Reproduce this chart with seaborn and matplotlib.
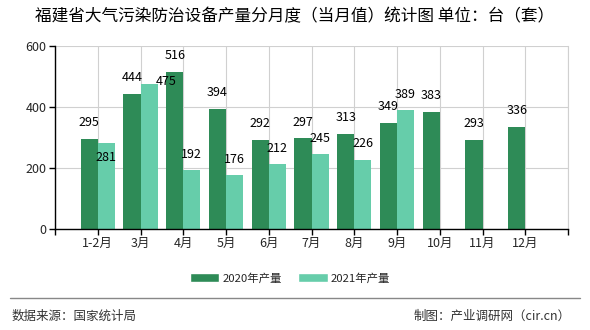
import matplotlib
matplotlib.use("Agg")
import matplotlib.pyplot as plt
import seaborn as sns
import pandas as pd
import numpy as np
from matplotlib.lines import Line2D
from matplotlib.patches import Patch

categories = ["1-2月", "3月", "4月", "5月", "6月", "7月", "8月", "9月", "10月", "11月", "12月"]
values_2020 = [295, 444, 516, 394, 292, 297, 313, 349, 383, 293, 336]
values_2021 = [281, 475, 192, 176, 212, 245, 226, 389, None, None, None]
series_names = ["2020年产量", "2021年产量"]
colors = ["#2E8B57", "#66CDAA"]
title = "福建省大气污染防治设备产量分月度（当月值）统计图 单位：台（套）"
yticks = [0, 200, 400, 600]

rows = []
for c, a, b in zip(categories, values_2020, values_2021):
    rows.append({"月份": c, "系列": series_names[0], "产量": a})
    rows.append({"月份": c, "系列": series_names[1], "产量": np.nan if b is None else b})
df = pd.DataFrame(rows)

sns.set_theme(style="white")
plt.rcParams["font.family"] = ["Noto Sans CJK SC", "DejaVu Sans"]

fig = plt.figure(figsize=(5.9, 3.3), dpi=100)
ax = fig.add_axes([55/590, 1-229/330, (568-55)/590, (229-46)/330])

sns.barplot(data=df, x="月份", y="产量", hue="系列", order=categories,
            hue_order=series_names, palette=colors, width=0.8,
            saturation=1, ax=ax, legend=False, zorder=3,
            linewidth=0, edgecolor="none")

ax.set_xlim(-1, len(categories))
ax.set_ylim(0, 600)
ax.set_xticks(range(-1, len(categories) + 1))
ax.set_xticklabels([""] + categories + [""], fontsize=9)
ax.set_yticks(yticks)
ax.set_yticklabels([str(t) for t in yticks], fontsize=9)
ax.set_xlabel("")
ax.set_ylabel("")
ax.grid(True, color="#d0d0d0", linewidth=0.8, zorder=0)
ax.set_axisbelow(True)
ax.spines["top"].set_visible(False)
ax.spines["right"].set_color("#d0d0d0")
ax.spines["right"].set_linewidth(0.8)
for s in ["left", "bottom"]:
    ax.spines[s].set_color("black")
    ax.spines[s].set_linewidth(1)
    ax.spines[s].set_zorder(4)
ax.tick_params(axis="both", length=4, width=1, color="black", direction="out", pad=2,
               bottom=True, left=True)

# data labels; two 2021 labels are nudged where they collide with neighbours
for si, cont in enumerate(ax.containers):
    vals = values_2020 if si == 0 else values_2021
    for ci, (bar, v) in enumerate(zip(cont, vals)):
        if v is None:
            continue
        dx, dy = 0, 7
        if si == 1 and ci == 0:
            dx, dy = 0, -15
        if si == 1 and ci == 1:
            dx, dy = 12, -3
        ax.annotate(str(v), (bar.get_x() + bar.get_width()/2, bar.get_height()),
                    xytext=(dx, dy), textcoords="offset points",
                    ha="center", va="bottom", fontsize=9, color="black", zorder=5)

fig.text(295/590, 1-17/330, title, ha="center", va="center", fontsize=12, color="black")

handles = [Patch(facecolor=colors[0]), Patch(facecolor=colors[1])]
fig.legend(handles, series_names, loc="center", bbox_to_anchor=(290/590, 1-278/330),
           ncol=2, frameon=False, fontsize=8.2, handlelength=2.6, handleheight=0.9,
           handletextpad=0.3, columnspacing=1.4)

fig.add_artist(Line2D([10/590, 580/590], [1-298/330, 1-298/330], color="#888888", linewidth=1))
fig.text(12/590, 1-316/330, "数据来源：国家统计局", ha="left", va="center", fontsize=9, color="#333333")
fig.text(571/590, 1-316/330, "制图：产业调研网（cir.cn）", ha="right", va="center", fontsize=9, color="#333333")

fig.savefig("out.png", dpi=100)
